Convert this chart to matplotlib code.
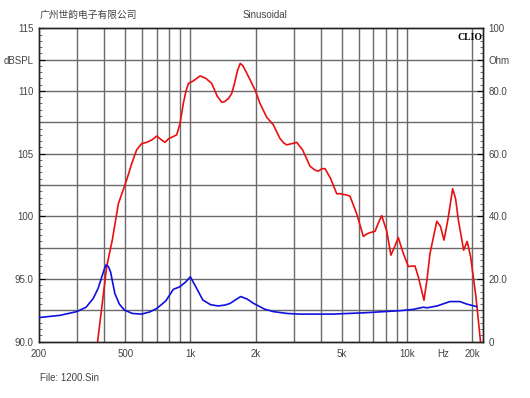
import matplotlib
matplotlib.use("Agg")
import matplotlib.pyplot as plt
import numpy as np

plt.rcParams['font.family'] = ['Liberation Sans', 'Noto Sans CJK SC', 'DejaVu Sans']

# SPL curve (dB)
spl_freq = [373, 411, 436, 465, 508, 536, 565, 596, 629, 665, 700, 735, 764, 795, 820, 865,
            896, 928, 955, 980, 1032, 1080, 1110, 1180, 1255, 1330, 1396, 1440, 1500, 1553,
            1600, 1650, 1700, 1750, 1800, 1887, 2000, 2098, 2253, 2417, 2596, 2700, 2787, 2950,
            3100, 3300, 3570, 3750, 3900, 4050, 4190, 4450, 4744, 4910, 5275, 5465, 5868, 6296,
            6550, 6762, 7130, 7400, 7655, 8085, 8440, 8800, 9132, 9630, 10160, 10900, 11290,
            12000, 12400, 12800, 13750, 14300, 14850, 15500, 16280, 16800, 17300, 18300, 18990,
            19700, 20850, 21900]
spl_db = [90.0, 96.0, 98.1, 101.0, 102.9, 104.2, 105.3, 105.8, 105.9, 106.1, 106.4, 106.1,
          105.9, 106.2, 106.3, 106.5, 107.4, 109.0, 110.0, 110.6, 110.8, 111.05, 111.2, 111.0,
          110.6, 109.6, 109.1, 109.15, 109.4, 109.8, 110.6, 111.6, 112.2, 112.0, 111.6, 110.9,
          110.0, 109.0, 107.9, 107.3, 106.2, 105.85, 105.7, 105.8, 105.9, 105.3, 104.0, 103.7,
          103.6, 103.8, 103.8, 103.0, 101.8, 101.8, 101.7, 101.6, 100.2, 98.4, 98.6, 98.7,
          98.8, 99.5, 100.05, 98.8, 96.9, 97.6, 98.3, 97.05, 96.0, 96.04, 95.2, 93.3, 95.0,
          97.05, 99.6, 99.2, 98.1, 99.8, 102.2, 101.4, 99.7, 97.3, 98.0, 96.8, 93.6, 90.0]

# impedance curve (Ohm)
imp_freq = [200, 250, 299, 330, 356, 375, 390, 400, 408, 418, 428, 448, 470, 496, 540, 596,
            650, 700, 770, 835, 870, 893, 950, 1000, 1060, 1142, 1240, 1346, 1450, 1530, 1620,
            1709, 1830, 1955, 2200, 2417, 2800, 3200, 4575, 6480, 9320, 10700, 11900, 12400,
            13800, 15800, 17600, 18900, 21000]
imp_ohm = [7.7, 8.4, 9.6, 11.0, 13.8, 17.0, 20.7, 23.0, 24.5, 24.0, 22.3, 15.4, 12.0, 10.1,
           9.0, 8.8, 9.5, 10.6, 13.0, 16.7, 17.2, 17.5, 19.0, 20.7, 17.5, 13.3, 11.8, 11.4,
           11.7, 12.25, 13.4, 14.4, 13.6, 12.25, 10.4, 9.6, 9.0, 8.8, 8.8, 9.25, 9.9, 10.3,
           11.0, 10.8, 11.4, 12.8, 12.8, 12.0, 11.2]

x_ticks = [200, 500, 1000, 2000, 5000, 10000, 14650, 20000]
x_labels = ['200', '500', '1k', '2k', '5k', '10k', 'Hz', '20k']
v_grid = [300, 400, 500, 600, 700, 800, 900, 1000, 2000, 3000, 4000, 5000, 6000, 7000,
          8000, 9000, 10000, 20000]
left_ticks = [90, 95, 100, 105, 110, 112.5, 115]
left_labels = ['90.0', '95.0', '100', '105', '110', 'dBSPL', '115']
right_ticks = [0, 20, 40, 60, 80, 90, 100]
right_labels = ['0', '20.0', '40.0', '60.0', '80.0', 'Ohm', '100']

txt = '#444444'
grid_c = '#6a6a6a'

fig = plt.figure(figsize=(5.30, 3.98), dpi=100)
ax = fig.add_axes([0.0736, 0.1415, 0.8377, 0.7875])
ax.set_xscale('log')
ax.set_xlim(200, 22480)
ax.set_ylim(90, 115)

for y in np.arange(92.5, 115, 2.5):
    ax.axhline(y, color=grid_c, lw=1.0, zorder=1)
for x in v_grid:
    ax.axvline(x, color=grid_c, lw=1.0, zorder=1)

ax.plot(spl_freq, spl_db, color='#e81010', lw=1.2, zorder=3, clip_on=True)

ax2 = ax.twinx()
ax2.set_ylim(0, 100)
ax2.plot(imp_freq, imp_ohm, color='#1010e0', lw=1.2, zorder=3)

ax.set_xticks(x_ticks)
ax.set_xticklabels(x_labels)
ax.xaxis.set_minor_locator(plt.NullLocator())
ax.tick_params(axis='x', length=0, pad=5, labelsize=7, labelcolor=txt)

ax.set_yticks(left_ticks)
ax.set_yticklabels(left_labels)
ax.set_yticks(np.arange(90, 115.01, 0.5), minor=True)
ax.tick_params(axis='y', which='major', direction='in', length=4, labelsize=7, labelcolor=txt, pad=4)
ax.tick_params(axis='y', which='minor', direction='in', length=2.5, color='#555555')

ax2.set_yticks(right_ticks)
ax2.set_yticklabels(right_labels)
ax2.set_yticks(np.arange(0, 100.01, 2), minor=True)
ax2.tick_params(axis='y', which='major', direction='in', length=4, labelsize=7, labelcolor=txt, pad=4)
ax2.tick_params(axis='y', which='minor', direction='in', length=2.5, color='#555555')

for a in (ax, ax2):
    for s in a.spines.values():
        s.set_color('#222222')
        s.set_linewidth(1.0)

fig.text(0.0755, 0.962, '广州世韵电子有限公司', fontsize=7, color=txt,
         family=['Noto Sans CJK SC', 'DejaVu Sans'], va='center')
fig.text(0.50, 0.962, 'Sinusoidal', fontsize=7, color=txt, ha='center', va='center')
ax.text(0.998, 0.985, 'CLIO', transform=ax.transAxes, ha='right', va='top',
        fontsize=7, fontweight='bold', family='Liberation Serif', color='black')
fig.text(0.0755, 0.05, 'File: 1200.Sin', fontsize=7, color=txt, va='center')

fig.savefig('out.png', dpi=100)
